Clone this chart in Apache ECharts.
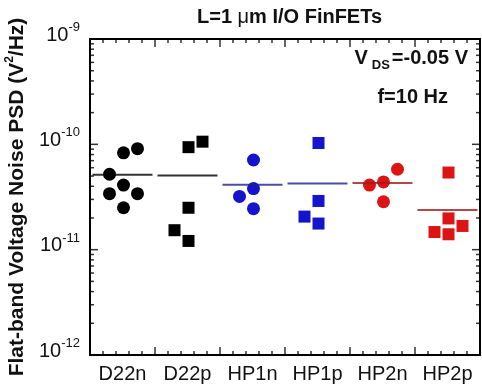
<!DOCTYPE html>
<html>
<head>
<meta charset="utf-8">
<script src="https://cdn.jsdelivr.net/npm/echarts@6/dist/echarts.min.js"></script>
<style>
  html, body { margin: 0; padding: 0; background: #fff; }
  #chart { width: 482px; height: 390px; }
</style>
</head>
<body>
<div id="chart"></div>
<script>
// Device flavours along the x axis
const categories = ['D22n', 'D22p', 'HP1n', 'HP1p', 'HP2n', 'HP2p'];

// Flat-band voltage noise PSD at f = 10 Hz, one entry per measured device (V^2/Hz)
const psdD22n = [5.2e-11, 8.3e-11, 9.1e-11, 4.1e-11, 3.4e-11, 3.4e-11, 2.5e-11];
const psdD22p = [9.4e-11, 1.06e-10, 2.5e-11, 1.53e-11, 1.21e-11];
const psdHP1n = [7.1e-11, 3.8e-11, 3.2e-11, 2.45e-11];
const psdHP1p = [1.03e-10, 2.9e-11, 2.06e-11, 1.77e-11];
const psdHP2n = [5.8e-11, 4.4e-11, 4.1e-11, 2.85e-11];
const psdHP2p = [5.4e-11, 1.98e-11, 1.68e-11, 1.47e-11, 1.4e-11];

// Column slot of each device inside its category (-1 left, 0 centre, 1 right)
const slotD22n = [-1, 0, 1, 0, -1, 1, 0];
const slotD22p = [0, 1, 0, -1, 0];
const slotHP1n = [0, 0, -1, 0];
const slotHP1p = [0, 0, -1, 0];
const slotHP2n = [1, 0, -1, 0];
const slotHP2p = [0, 0, 1, -1, 0];

// Decades shown on the log axis
const decadeTicks = [1e-12, 1e-11, 1e-10, 1e-9];

const FONT = 'Liberation Sans, Arial, sans-serif';
const SLOT_PX = 14;
const MINOR_PER_CATEGORY = 5;

const groups = [
  { values: psdD22n, slots: slotD22n, symbol: 'circle', color: '#000000', mean: '#000000' },
  { values: psdD22p, slots: slotD22p, symbol: 'rect',   color: '#000000', mean: '#000000' },
  { values: psdHP1n, slots: slotHP1n, symbol: 'circle', color: '#1414cc', mean: '#1a2288' },
  { values: psdHP1p, slots: slotHP1p, symbol: 'rect',   color: '#1414cc', mean: '#1a2288' },
  { values: psdHP2n, slots: slotHP2n, symbol: 'circle', color: '#dd1414', mean: '#a01a1a' },
  { values: psdHP2p, slots: slotHP2p, symbol: 'rect',   color: '#dd1414', mean: '#a01a1a' }
];

const yMin = decadeTicks[0];
const yMax = decadeTicks[decadeTicks.length - 1];
const xMax = categories.length;

// log-axis minor ticks: 2..9 x each decade
const yMinor = [];
decadeTicks.slice(0, -1).forEach(d => {
  for (let k = 2; k <= 9; k++) yMinor.push(k * d);
});
// category-boundary ticks and the subdivisions between them
const xMajor = [];
const xMinor = [];
for (let i = 0; i <= xMax; i++) {
  xMajor.push(i);
  if (i < xMax) for (let k = 1; k < MINOR_PER_CATEGORY; k++) xMinor.push(i + k / MINOR_PER_CATEGORY);
}

const series = [];
groups.forEach((g, ci) => {
  series.push({
    type: 'scatter',
    xAxisIndex: 0,
    yAxisIndex: 0,
    symbol: g.symbol,
    symbolSize: g.symbol === 'circle' ? 13 : 12,
    itemStyle: { color: g.color, opacity: 1 },
    data: g.values.map((v, i) => ({
      value: [ci, v],
      symbolOffset: [g.slots[i] * SLOT_PX + 1, 0]
    }))
  });
});

// mean of each category drawn as a short horizontal bar
series.push({
  type: 'scatter',
  xAxisIndex: 0,
  yAxisIndex: 0,
  symbol: 'rect',
  symbolSize: [60, 2],
  data: groups.map((g, ci) => ({
    value: [ci, g.values.reduce((a, b) => a + b, 0) / g.values.length],
    itemStyle: { color: g.mean }
  }))
});

// inward tick marks on all four sides of the frame
const MAJOR_LEN = 8, MINOR_LEN = 4, TICK_W = 1.5;
function tickItem(value, len, horizontal, dir) {
  return {
    value: value,
    symbolSize: horizontal ? [len, TICK_W] : [TICK_W, len],
    symbolOffset: horizontal ? [dir * len / 2, 0] : [0, dir * len / 2]
  };
}
const tickData = [];
xMajor.forEach(x => {
  tickData.push(tickItem([x, yMin], MAJOR_LEN, false, -1));
  tickData.push(tickItem([x, yMax], MAJOR_LEN, false, 1));
});
xMinor.forEach(x => {
  tickData.push(tickItem([x, yMin], MINOR_LEN, false, -1));
  tickData.push(tickItem([x, yMax], MINOR_LEN, false, 1));
});
decadeTicks.forEach(v => {
  tickData.push(tickItem([0, v], MAJOR_LEN, true, 1));
  tickData.push(tickItem([xMax, v], MAJOR_LEN, true, -1));
});
yMinor.forEach(v => {
  tickData.push(tickItem([0, v], MINOR_LEN, true, 1));
  tickData.push(tickItem([xMax, v], MINOR_LEN, true, -1));
});
series.push({
  type: 'scatter',
  xAxisIndex: 1,
  yAxisIndex: 0,
  symbol: 'rect',
  clip: false,
  silent: true,
  itemStyle: { color: '#000' },
  data: tickData
});

function frameLine() {
  return { show: true, onZero: false, lineStyle: { color: '#000', width: 2 } };
}

const bold20 = { fontSize: 20, fontWeight: 'bold', fontFamily: FONT, color: '#111' };

const option = {
  animation: false,
  title: [
    {
      text: 'L=1 {mu|μ}m I/O FinFETs',
      left: 197, top: 7, padding: 0,
      textStyle: Object.assign({}, bold20, {
        rich: { mu: { fontSize: 20, fontWeight: 'normal', fontFamily: FONT, color: '#111' } }
      })
    },
    {
      text: '{a|V}{sub|DS}{a|=-0.05 V}',
      right: 14, top: 48, padding: 0,
      textStyle: Object.assign({}, bold20, {
        rich: {
          a: Object.assign({}, bold20, { lineHeight: 24, verticalAlign: 'top' }),
          sub: { fontSize: 13, fontWeight: 'bold', fontFamily: FONT, color: '#111', lineHeight: 16,
                 verticalAlign: 'bottom', padding: [19, 2, 0, 4] }
        }
      })
    },
    {
      text: 'f=10 Hz',
      right: 34, top: 87, padding: 0,
      textStyle: bold20
    }
  ],
  grid: { left: 90, right: 2, top: 39, bottom: 35, outerBoundsMode: 'none' },
  xAxis: [
    {
      type: 'category',
      data: categories,
      position: 'bottom',
      axisLine: frameLine(),
      axisTick: { show: false },
      splitLine: { show: false },
      axisLabel: { fontSize: 20, fontFamily: FONT, color: '#111', margin: 9, interval: 0 }
    },
    {
      type: 'value', min: 0, max: xMax, position: 'bottom',
      axisLine: { show: false, onZero: false }, axisTick: { show: false },
      axisLabel: { show: false }, splitLine: { show: false }
    },
    {
      type: 'value', min: 0, max: xMax, position: 'top',
      axisLine: frameLine(), axisTick: { show: false },
      axisLabel: { show: false }, splitLine: { show: false }
    }
  ],
  yAxis: [
    {
      type: 'log', logBase: 10, min: yMin, max: yMax, position: 'left',
      axisLine: frameLine(), axisTick: { show: false }, splitLine: { show: false },
      axisLabel: {
        show: true,
        margin: 10,
        padding: [0, 0, 12, 0],
        formatter: v => '{b|10}{s|' + Math.round(Math.log10(v)) + '}',
        rich: {
          b: { fontSize: 20, fontFamily: FONT, color: '#111', padding: [4, 0, 0, 0] },
          s: { fontSize: 13, fontFamily: FONT, color: '#111', verticalAlign: 'top' }
        }
      },
      name: '{t|Flat-band Voltage Noise PSD (V}{sup|2}{t|/Hz)}',
      nameLocation: 'middle',
      nameRotate: 90,
      nameGap: 56,
      nameTextStyle: {
        fontSize: 21, fontWeight: 'bold', fontFamily: FONT, color: '#111',
        rich: {
          t: { fontSize: 21, fontWeight: 'bold', fontFamily: FONT, color: '#111', lineHeight: 24, verticalAlign: 'bottom' },
          sup: { fontSize: 12, fontWeight: 'bold', fontFamily: FONT, color: '#111', lineHeight: 24, verticalAlign: 'top' }
        }
      }
    },
    {
      type: 'log', logBase: 10, min: yMin, max: yMax, position: 'right',
      axisLine: frameLine(), axisTick: { show: false },
      axisLabel: { show: false }, splitLine: { show: false }
    }
  ],
  series: series
};

const chart = echarts.init(document.getElementById('chart'));
chart.setOption(option);
</script>
</body>
</html>
